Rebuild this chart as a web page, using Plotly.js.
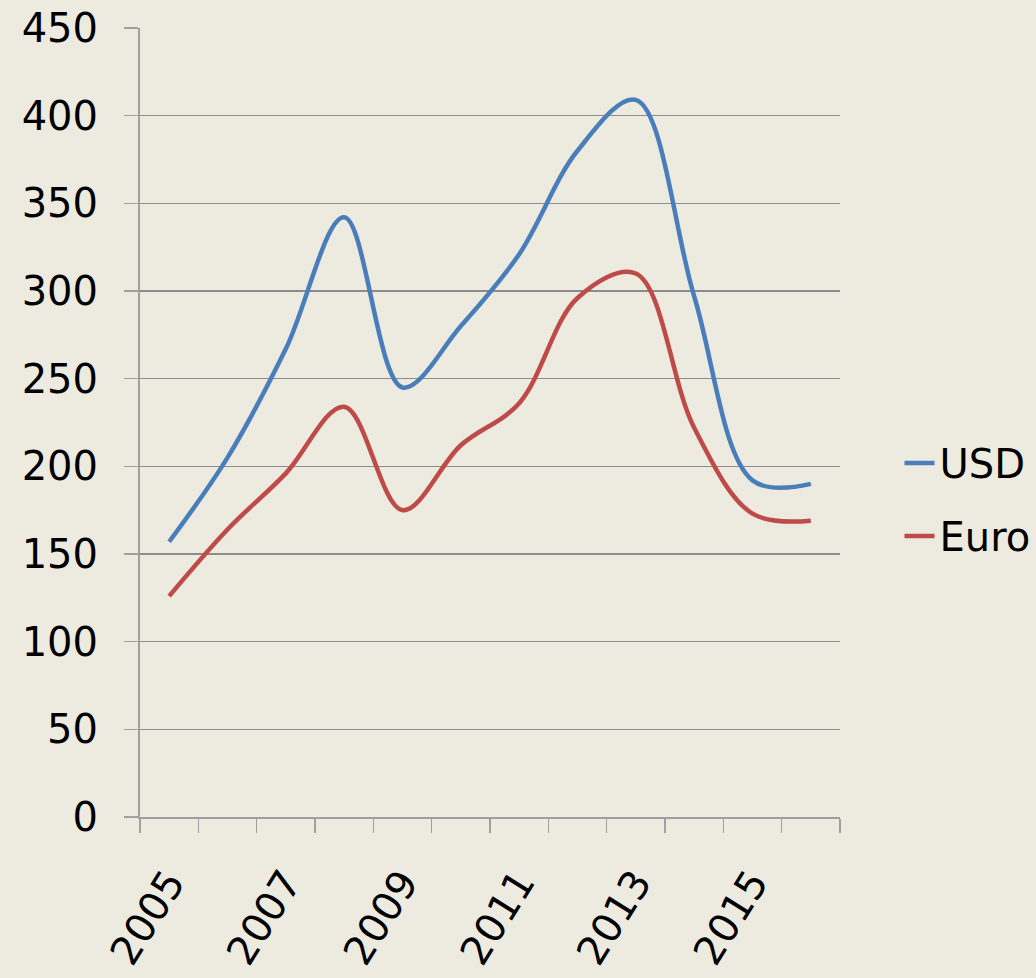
<!DOCTYPE html>
<html>
<head>
<meta charset="utf-8">
<script src="https://cdn.plot.ly/plotly-3.0.1.min.js"></script>
<style>
  html, body { margin: 0; padding: 0; background: #edeae0; }
  #chart { width: 1036px; height: 978px; }
</style>
</head>
<body>
<div id="chart"></div>
<script>
const years = ['2005','2006','2007','2008','2009','2010','2011','2012','2013','2014','2015','2016'];
const yearLabels = ['2005','','2007','','2009','','2011','','2013','','2015',''];
const usd  = [157, 205, 267, 342, 245, 280, 321, 380, 409, 297, 192, 190];
const euro = [126, 164, 196, 234, 175, 212, 236, 296, 310, 222, 173, 169];
const yTicks = [0, 50, 100, 150, 200, 250, 300, 350, 400, 450];

const fontFamily = 'DejaVu Sans, Verdana, sans-serif';

const traces = [
  {
    x: years, y: usd, name: 'USD', type: 'scatter', mode: 'lines',
    line: { color: '#4a7ebb', width: 4.5, shape: 'spline', smoothing: 1 },
    legendgroup: 'a', hoverinfo: 'skip'
  },
  {
    x: years, y: euro, name: 'Euro', type: 'scatter', mode: 'lines',
    line: { color: '#be4b48', width: 4.5, shape: 'spline', smoothing: 1 },
    legendgroup: 'b', hoverinfo: 'skip'
  }
];

const layout = {
  width: 1036, height: 978,
  margin: { l: 140, r: 196, t: 28, b: 161, autoexpand: false },
  paper_bgcolor: '#edeae0',
  plot_bgcolor: '#edeae0',
  font: { family: fontFamily, color: '#000000', size: 40 },
  showlegend: true,
  legend: {
    x: 1.085, xanchor: 'left', y: 0.49, yanchor: 'top',
    bgcolor: 'rgba(0,0,0,0)', borderwidth: 0,
    font: { family: fontFamily, size: 40, color: '#000' },
    traceorder: 'grouped', tracegroupgap: 18
  },
  xaxis: {
    type: 'category',
    categoryorder: 'array', categoryarray: years,
    range: [-0.5, 11.5],
    tickmode: 'array', tickvals: years, ticktext: yearLabels,
    tickson: 'boundaries',
    ticks: 'outside', ticklen: 14, tickwidth: 1.5, tickcolor: '#a0a0a0',
    showline: true, linecolor: '#a0a0a0', linewidth: 2,
    showgrid: false, zeroline: false,
    tickangle: -58,
    ticklabelstandoff: 24,
    tickfont: { family: fontFamily, size: 40, color: '#000' },
    automargin: false,
    fixedrange: true
  },
  yaxis: {
    range: [0, 450],
    tickmode: 'array', tickvals: yTicks,
    ticks: 'outside', ticklen: 14, tickwidth: 1.5, tickcolor: '#a0a0a0',
    showline: true, linecolor: '#a0a0a0', linewidth: 2,
    showgrid: true, gridcolor: '#8c8c8c', gridwidth: 1.6,
    zeroline: false,
    ticklabelstandoff: 18,
    tickfont: { family: fontFamily, size: 40, color: '#000' },
    automargin: false,
    fixedrange: true
  }
};

Plotly.newPlot('chart', traces, layout, { staticPlot: true, displayModeBar: false });
</script>
</body>
</html>
